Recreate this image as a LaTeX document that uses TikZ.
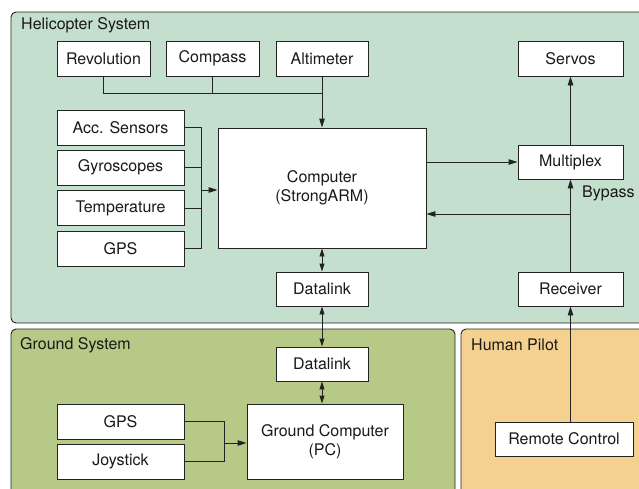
\documentclass[tikz,border=0pt]{standalone}
\usepackage{fontspec}
\setmainfont{TeX Gyre Heros}
\usetikzlibrary{arrows.meta}
\definecolor{heli}{RGB}{196,223,205}
\definecolor{ground}{RGB}{182,201,134}
\definecolor{pilot}{RGB}{245,209,143}
\definecolor{ink}{RGB}{35,35,35}
\definecolor{txt}{RGB}{25,25,25}
\begin{document}
\begin{tikzpicture}[x=1pt,y=-1pt,
  box/.style={draw=ink,fill=white,line width=0.9pt,inner sep=0pt,minimum height=35pt,text=txt,font=\fontsize{16}{19}\selectfont,align=center},
  panel/.style={draw=ink,line width=0.9pt,rounded corners=5pt},
  ptitle/.style={anchor=west,inner sep=0pt,text=txt,font=\fontsize{16}{19}\selectfont},
  wire/.style={draw=ink,line width=0.9pt},
  arr/.style={wire,-{Triangle[length=9pt,width=5.5pt]}},
  darr/.style={wire,{Triangle[length=8pt,width=5pt]}-{Triangle[length=8pt,width=5pt]}}]
\useasboundingbox (0,0) rectangle (639,488);
\clip (0,0) rectangle (639,488);
\fill[white] (0,0) rectangle (639,488);
% panels
\draw[panel,fill=heli] (11,12) rectangle (660,323);
\draw[panel,fill=ground] (11,329) rectangle (455,510);
\draw[panel,fill=pilot] (461,329) rectangle (660,510);
\node[ptitle] (th) at (21,25.5) {Helicopter System};
\node[ptitle] (tg) at (20,345) {Ground System};
\node[ptitle] (tp) at (471,345) {Human Pilot};
% helicopter nodes
\node[box,minimum width=93pt] (rev) at (103.5,58.5) {Revolution};
\node[box,minimum width=93pt] (cmp) at (212.5,58.5) {Compass};
\node[box,minimum width=92pt] (alt) at (322,58.5) {Altimeter};
\node[box,minimum width=105pt] (srv) at (570.5,58.5) {Servos};
\node[box,minimum width=208pt,minimum height=120pt] (comp) at (322,188) {Computer\\(StrongARM)};
\node[box,minimum width=127pt] (acc) at (120.5,127.5) {Acc. Sensors};
\node[box,minimum width=127pt] (gyr) at (120.5,167.5) {Gyroscopes};
\node[box,minimum width=127pt] (tmp) at (120.5,208) {Temperature};
\node[box,minimum width=127pt] (gps) at (120.5,248.5) {GPS};
\node[box,minimum width=105pt,minimum height=34pt] (mux) at (570.5,162) {Multiplex};
\node[box,minimum width=105pt,minimum height=34pt] (rcv) at (570.5,289) {Receiver};
\node[box,minimum width=92pt,minimum height=34pt] (dlh) at (322,289) {Datalink};
\node[anchor=west,inner sep=0pt,text=txt,font=\fontsize{16}{19}\selectfont] (byl) at (582,193) {Bypass};
% ground nodes
\node[box,minimum width=92pt,minimum height=34pt] (dlg) at (322,364) {Datalink};
\node[box,minimum width=156pt,minimum height=75pt] (gc) at (325,441.5) {Ground Computer\\(PC)};
\node[box,minimum width=127pt] (ggps) at (120.5,421.5) {GPS};
\node[box,minimum width=127pt] (joy) at (120.5,461.5) {Joystick};
% pilot
\node[box,minimum width=138pt,minimum height=34pt] (rc) at (564,439) {Remote Control};
% coordinates
\coordinate (jt) at (322,93);
\coordinate (bt) at (201,127.5);
\coordinate (bb) at (201,248.5);
\coordinate (byp) at (570.5,214);
\coordinate (gj) at (224,421.5);
% top sensors
\draw[wire] (rev.south) |- (jt);
\draw[wire] (cmp.south) -- (cmp.south |- jt);
\draw[arr] (alt.south) -- (comp.north);
% sensor bus
\draw[wire] (acc.east) -- (bt) -- (bb) -- (gps.east);
\draw[wire] (gyr.east) -- (gyr.east -| bt);
\draw[wire] (tmp.east) -- (tmp.east -| bt);
\draw[arr] (bt |- 0,190) -- (comp.west |- 0,190);
% outputs
\draw[arr] (comp.east |- mux.west) -- (mux.west);
\draw[arr] (mux.north) -- (srv.south);
\draw[arr] (rcv.north) -- (mux.south);
\draw[arr] (byp) -- (comp.east |- byp);
% datalinks
\draw[darr] (comp.south) -- (dlh.north);
\draw[darr] (dlh.south) -- (dlg.north);
\draw[darr] (dlg.south) -- (dlg.south |- gc.north);
% ground inputs
\draw[wire] (ggps.east) -- (gj) |- (joy.east);
\draw[arr] (gj |- 0,443) -- (gc.west |- 0,443);
% pilot
\draw[arr] (rc.north -| rcv.south) -- (rcv.south);
\end{tikzpicture}
\end{document}
